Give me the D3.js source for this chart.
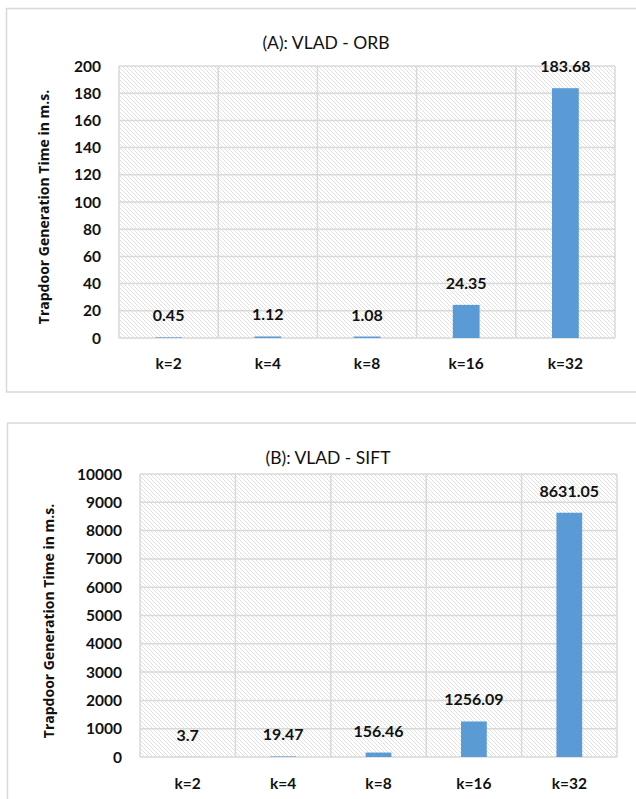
<!DOCTYPE html>
<html>
<head>
<meta charset="utf-8">
<script src="https://cdn.jsdelivr.net/npm/d3@7"></script>
<style>
  html, body { margin: 0; padding: 0; background: #fff; }
  svg { display: block; }
</style>
</head>
<body>
<svg id="fig" width="636" height="799"></svg>
<script>
// k values (number of clusters) on the category axis
const categories = ["k=2", "k=4", "k=8", "k=16", "k=32"];
// trapdoor generation time in milliseconds
const orbTimes  = [0.45, 1.12, 1.08, 24.35, 183.68];
const siftTimes = [3.7, 19.47, 156.46, 1256.09, 8631.05];
// y-axis tick values
const orbTicks  = [0, 20, 40, 60, 80, 100, 120, 140, 160, 180, 200];
const siftTicks = [0, 1000, 2000, 3000, 4000, 5000, 6000, 7000, 8000, 9000, 10000];
const titles = ["(A): VLAD - ORB", "(B): VLAD - SIFT"];
const axisTitle = "Trapdoor Generation Time in m.s.";

const svg = d3.select("#fig");
const BAR = "#5b9bd5", GRID = "#d9d9d9", INK = "#111";
const LABEL_FONT = "Lato, 'Open Sans', sans-serif";

// light diagonal hatch used as the plot-area fill
const defs = svg.append("defs");
const pat = defs.append("pattern")
  .attr("id", "hatch").attr("patternUnits", "userSpaceOnUse")
  .attr("width", 4).attr("height", 4);
pat.append("rect").attr("width", 4).attr("height", 4).attr("fill", "#fff");
pat.append("path")
  .attr("d", "M-1,-1L5,5M3,-1L5,1M-1,3L1,5")
  .attr("stroke", "#d2d2d2").attr("stroke-width", 0.7);

function drawChart(o) {
  const g = svg.append("g");

  // chart frame
  g.append("rect")
    .attr("x", o.frame[0]).attr("y", o.frame[1])
    .attr("width", o.frame[2]).attr("height", o.frame[3])
    .attr("fill", "none").attr("stroke", GRID).attr("stroke-width", 1.5);

  const x = d3.scaleBand().domain(categories).range([o.left, o.right])
    .paddingInner(0.73).paddingOuter(0.365);
  const xCell = d3.scaleBand().domain(categories).range([o.left, o.right]).padding(0);
  const y = d3.scaleLinear().domain([0, d3.max(o.ticks)]).range([o.bottom, o.top]);

  // hatched plot background
  g.append("rect")
    .attr("x", o.left).attr("y", o.top)
    .attr("width", o.right - o.left).attr("height", o.bottom - o.top)
    .attr("fill", "url(#hatch)");

  // horizontal gridlines
  g.append("g").selectAll("line").data(o.ticks).join("line")
    .attr("x1", o.left).attr("x2", o.right)
    .attr("y1", d => y(d)).attr("y2", d => y(d))
    .attr("stroke", GRID).attr("stroke-width", 1.5);

  // vertical gridlines at category boundaries
  const bounds = categories.map(c => xCell(c)).concat([o.right]);
  g.append("g").selectAll("line").data(bounds).join("line")
    .attr("x1", d => d).attr("x2", d => d)
    .attr("y1", o.top).attr("y2", o.bottom)
    .attr("stroke", GRID).attr("stroke-width", 1.5);

  // bars
  g.append("g").selectAll("rect").data(o.values).join("rect")
    .attr("x", (d, i) => x(categories[i]))
    .attr("width", x.bandwidth())
    .attr("y", d => y(d))
    .attr("height", d => y(0) - y(d))
    .attr("fill", BAR);

  // value labels
  g.append("g").selectAll("text").data(o.values).join("text")
    .attr("x", (d, i) => x(categories[i]) + x.bandwidth() / 2)
    .attr("y", d => y(d) - 16)
    .attr("text-anchor", "middle")
    .attr("font-family", LABEL_FONT).attr("font-weight", 700)
    .attr("font-size", 16).attr("fill", INK)
    .text(d => d);

  // y tick labels
  g.append("g").selectAll("text").data(o.ticks).join("text")
    .attr("x", o.left - 18)
    .attr("y", d => y(d) + 5.5)
    .attr("text-anchor", "end")
    .attr("font-family", LABEL_FONT).attr("font-weight", 700)
    .attr("font-size", 15.5).attr("fill", INK)
    .text(d => d);

  // category labels
  g.append("g").selectAll("text").data(categories).join("text")
    .attr("x", d => xCell(d) + xCell.bandwidth() / 2)
    .attr("y", o.catY)
    .attr("text-anchor", "middle")
    .attr("font-family", LABEL_FONT).attr("font-weight", 700)
    .attr("font-size", 15.5).attr("fill", INK)
    .text(d => d);

  // chart title
  g.append("text")
    .attr("x", o.titleX).attr("y", o.titleY)
    .attr("text-anchor", "middle")
    .attr("font-family", LABEL_FONT)
    .attr("font-size", 17.5).attr("fill", INK)
    .text(o.title);

  // y-axis title
  g.append("text")
    .attr("transform", `translate(${o.axisX},${o.axisY}) rotate(-90)`)
    .attr("text-anchor", "middle")
    .attr("font-family", "'Open Sans', sans-serif").attr("font-weight", 700)
    .attr("font-size", 14).attr("fill", INK)
    .text(axisTitle);
}

drawChart({
  frame: [6.5, 8.5, 640, 383.5],
  left: 119, right: 615, top: 66, bottom: 338,
  values: orbTimes, ticks: orbTicks, title: titles[0],
  titleX: 326, titleY: 49, catY: 368.5, axisX: 49, axisY: 207
});

drawChart({
  frame: [7.5, 423, 640, 400],
  left: 140, right: 617, top: 474, bottom: 757,
  values: siftTimes, ticks: siftTicks, title: titles[1],
  titleX: 328, titleY: 464, catY: 788.5, axisX: 54, axisY: 621
});
</script>
</body>
</html>
